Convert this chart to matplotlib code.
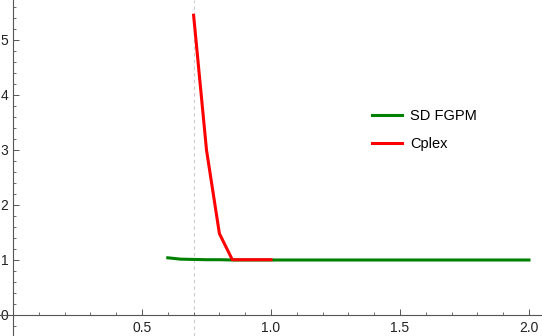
import numpy as np
import matplotlib.pyplot as plt
from matplotlib.ticker import MultipleLocator

plt.rcParams['font.family'] = ['Liberation Sans', 'DejaVu Sans']

# SD FGPM
sd_x = [0.6, 0.65, 0.7, 0.75, 0.8, 0.85, 0.9, 1.0, 1.5, 2.0]
sd_y = [1.04, 1.015, 1.01, 1.005, 1.005, 1.0, 1.0, 1.0, 1.0, 1.0]
# Cplex
cp_x = [0.7, 0.75, 0.8, 0.85, 0.9, 1.0]
cp_y = [5.45, 3.0, 1.48, 1.005, 1.005, 1.005]
vline_x = 0.7

fig = plt.figure(figsize=(5.42, 3.36), dpi=100)
ax = fig.add_axes([0, 0, 1, 1])
ax.set_xlim(-0.0504, 2.0504)
ax.set_ylim(-0.382, 5.727)

ax.axvline(vline_x, color='#cccccc', lw=0.8, ls=(0, (3, 3)), zorder=1)
ax.plot(sd_x, sd_y, color='#008000', lw=2.2, label='SD FGPM', zorder=2)
ax.plot(cp_x, cp_y, color='#ff0000', lw=2.2, label='Cplex', zorder=3)

for s in ['top', 'right']:
    ax.spines[s].set_visible(False)
ax.spines['left'].set_position(('data', 0))
ax.spines['bottom'].set_position(('data', 0))
for s in ['left', 'bottom']:
    ax.spines[s].set_color('#555555')
    ax.spines[s].set_linewidth(0.8)

ax.xaxis.set_minor_locator(MultipleLocator(0.1))
ax.yaxis.set_minor_locator(MultipleLocator(0.2))
ax.set_xticks([0.5, 1.0, 1.5, 2.0])
ax.set_xticklabels(['0.5', '1.0', '1.5', '2.0'])
ax.set_yticks([0, 1, 2, 3, 4, 5])
ax.tick_params(which='both', direction='in', colors='#555555', labelcolor='#222222', labelsize=10)
ax.tick_params(which='major', length=4.5, width=0.7)
ax.tick_params(which='minor', length=2.5, width=0.6)
ax.tick_params(axis='y', pad=3.5)
ax.tick_params(axis='x', pad=4)

ax.legend(loc='upper left', bbox_to_anchor=(372 / 542, 1 - 109 / 336), frameon=False,
          fontsize=10.5, handlelength=2.05, handletextpad=0.55, labelspacing=0.95,
          borderpad=0, borderaxespad=0)

fig.savefig('out.png', dpi=100)
